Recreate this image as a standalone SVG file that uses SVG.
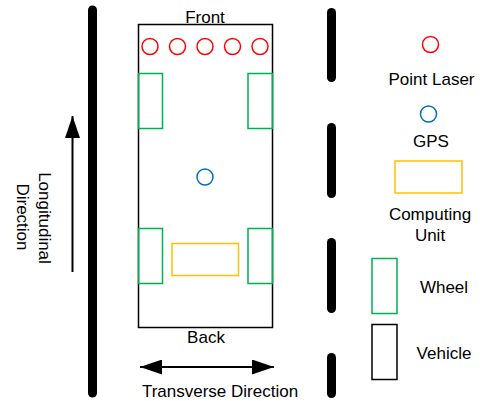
<svg xmlns="http://www.w3.org/2000/svg" width="482" height="401" viewBox="0 0 482 401">
<defs>
<style>
text{font-family:"Liberation Sans",Arial,sans-serif;font-size:17px;fill:#000;text-anchor:middle}
.road{stroke:#000;stroke-width:9;stroke-linecap:round;fill:none}
.veh{fill:none;stroke:#000;stroke-width:1.5}
.wheel{fill:none;stroke:#00B050;stroke-width:1.5}
.cpu{fill:none;stroke:#FFC000;stroke-width:1.5}
.laser{fill:none;stroke:#FF0000;stroke-width:1.5}
.gps{fill:none;stroke:#0070C0;stroke-width:1.5}
.arr{stroke:#000;stroke-width:2;fill:none}
</style>
<marker id="ah" viewBox="0 0 22 15" refX="22" refY="7.5" markerWidth="22" markerHeight="15" markerUnits="userSpaceOnUse" orient="auto-start-reverse">
<path d="M0,0 L22,7.5 L0,15 Z" fill="#000"/>
</marker>
</defs>
<g id="road-left"><line class="road" x1="92.5" y1="10" x2="92.5" y2="393"/></g>
<g id="road-right">
<line class="road" x1="331.5" y1="12.5" x2="331.5" y2="77.5"/>
<line class="road" x1="331.5" y1="127.5" x2="331.5" y2="193.5"/>
<line class="road" x1="331.5" y1="242.5" x2="331.5" y2="308.5"/>
<line class="road" x1="331.5" y1="357.5" x2="331.5" y2="393.5"/>
</g>
<g id="vehicle">
<rect class="veh" x="138.5" y="24.5" width="134" height="303"/>
<text x="205" y="23">Front</text>
<text x="206" y="343">Back</text>
</g>
<g id="lasers">
<circle class="laser" cx="150" cy="46.5" r="8"/>
<circle class="laser" cx="177.5" cy="46.5" r="8"/>
<circle class="laser" cx="205" cy="46.5" r="8"/>
<circle class="laser" cx="232.5" cy="46.5" r="8"/>
<circle class="laser" cx="260" cy="46.5" r="8"/>
</g>
<g id="wheels">
<rect class="wheel" x="138.5" y="73.5" width="24" height="55"/>
<rect class="wheel" x="248" y="73.5" width="24.5" height="55"/>
<rect class="wheel" x="138.5" y="228.5" width="24" height="55"/>
<rect class="wheel" x="248" y="228.5" width="24.5" height="55"/>
</g>
<g id="gps"><circle class="gps" cx="205" cy="177" r="8"/></g>
<g id="computing-unit"><rect class="cpu" x="172" y="243.5" width="66.5" height="32"/></g>
<g id="connectors">
<line class="arr" x1="72.5" y1="272" x2="72.5" y2="116" marker-end="url(#ah)"/>
<line class="arr" x1="140" y1="367" x2="274" y2="367" marker-start="url(#ah)" marker-end="url(#ah)"/>
</g>
<g id="longitudinal-label">
<text transform="translate(39,218) rotate(90)">Longitudinal</text>
<text transform="translate(17,217) rotate(90)">Direction</text>
</g>
<g id="transverse-label"><text x="220" y="397">Transverse Direction</text></g>
<g id="legend-laser">
<circle class="laser" cx="430.5" cy="44.5" r="8"/>
<text x="431.5" y="85">Point Laser</text>
</g>
<g id="legend-gps">
<circle class="gps" cx="428.5" cy="114" r="8"/>
<text x="431" y="146.5">GPS</text>
</g>
<g id="legend-cpu">
<rect class="cpu" x="395" y="161" width="67" height="32"/>
<text x="430" y="220">Computing</text>
<text x="430" y="240.5">Unit</text>
</g>
<g id="legend-wheel">
<rect class="wheel" x="372" y="258.5" width="25" height="55"/>
<text x="444" y="293">Wheel</text>
</g>
<g id="legend-vehicle">
<rect class="veh" x="372" y="324.5" width="25" height="55"/>
<text x="444" y="359">Vehicle</text>
</g>
</svg>
